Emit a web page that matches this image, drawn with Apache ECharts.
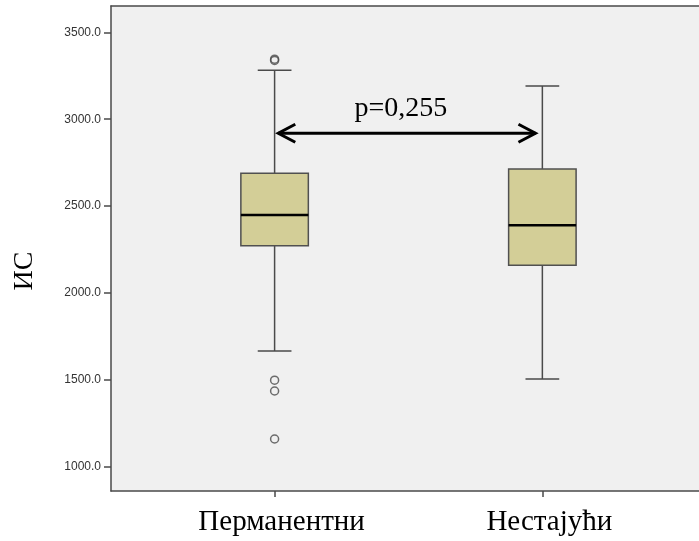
<!DOCTYPE html>
<html>
<head>
<meta charset="utf-8">
<script src="https://cdn.jsdelivr.net/npm/echarts@6/dist/echarts.min.js"></script>
<style>
  html, body { margin: 0; padding: 0; background: #ffffff; }
  #chart { width: 699px; height: 541px; }
</style>
</head>
<body>
<div id="chart"></div>
<script>
// Groups on the horizontal axis
const categories = ['Перманентни', 'Нестајући'];

// Five-number summaries per group
const boxMin    = [1667, 1506];
const boxQ1     = [2273, 2160];
const boxMedian = [2449, 2390];
const boxQ3     = [2689, 2714];
const boxMax    = [3281, 3191];

// Outlying observations (group index, value)
const outlierGroup  = [0, 0, 0, 0, 0];
const outlierValues = [3338, 3345, 1499, 1437, 1161];

// Vertical axis ticks
const yTicks = [1000, 1500, 2000, 2500, 3000, 3500];

// Comparison arrow between the groups and its label
const arrowFrom = 0.01;
const arrowTo = 0.978;
const arrowLevel = 2919;
const pLabel = 'p=0,255';

const boxData = categories.map((c, i) => [i, boxMin[i], boxQ1[i], boxMedian[i], boxQ3[i], boxMax[i]]);
const outlierData = outlierGroup.map((g, i) => [g, outlierValues[i]]);

const frameColor = '#4a4a4a';
const frameLine = { color: frameColor, width: 1.5 };

function renderBox(params, api) {
  const x = api.value(0);
  const pMin = api.coord([x, api.value(1)]);
  const pQ1 = api.coord([x, api.value(2)]);
  const pMed = api.coord([x, api.value(3)]);
  const pQ3 = api.coord([x, api.value(4)]);
  const pMax = api.coord([x, api.value(5)]);
  const unit = api.size([1, 0])[0];
  const half = unit * 0.126;
  const cap = half / 2;
  const cx = pMed[0];
  const whisker = { stroke: frameColor, lineWidth: 1.5 };
  return {
    type: 'group',
    children: [
      { type: 'line', shape: { x1: cx, y1: pQ3[1], x2: cx, y2: pMax[1] }, style: whisker },
      { type: 'line', shape: { x1: cx - cap, y1: pMax[1], x2: cx + cap, y2: pMax[1] }, style: whisker },
      { type: 'line', shape: { x1: cx, y1: pQ1[1], x2: cx, y2: pMin[1] }, style: whisker },
      { type: 'line', shape: { x1: cx - cap, y1: pMin[1], x2: cx + cap, y2: pMin[1] }, style: whisker },
      {
        type: 'rect',
        shape: { x: cx - half, y: pQ3[1], width: half * 2, height: pQ1[1] - pQ3[1] },
        style: { fill: '#d3ce97', stroke: '#505050', lineWidth: 1.5 }
      },
      { type: 'line', shape: { x1: cx - half, y1: pMed[1], x2: cx + half, y2: pMed[1] }, style: { stroke: '#000', lineWidth: 2.5 } }
    ]
  };
}

function renderArrow(params, api) {
  const a = api.coord([api.value(0), api.value(2)]);
  const b = api.coord([api.value(1), api.value(2)]);
  const headLen = 18, headHalf = 9;
  const st = { stroke: '#000', lineWidth: 3, fill: null, lineJoin: 'miter' };
  return {
    type: 'group',
    children: [
      { type: 'line', shape: { x1: a[0] + 1, y1: a[1], x2: b[0] - 1, y2: b[1] }, style: st },
      { type: 'polyline', shape: { points: [[a[0] + headLen, a[1] - headHalf], [a[0] + 1, a[1]], [a[0] + headLen, a[1] + headHalf]] }, style: st },
      { type: 'polyline', shape: { points: [[b[0] - headLen, b[1] - headHalf], [b[0] - 1, b[1]], [b[0] - headLen, b[1] + headHalf]] }, style: st },
      {
        type: 'text',
        x: (a[0] + b[0]) / 2 - 6,
        y: a[1] - 25,
        style: {
          text: pLabel,
          font: '28px "Liberation Serif", "Times New Roman", serif',
          fill: '#000',
          align: 'center',
          verticalAlign: 'middle'
        }
      }
    ]
  };
}

const chart = echarts.init(document.getElementById('chart'), null, { renderer: 'canvas' });
chart.setOption({
  animation: false,
  backgroundColor: '#ffffff',
  grid: {
    left: 111, top: 6, right: -5, bottom: 50,
    show: true,
    backgroundColor: '#f0f0f0',
    borderWidth: 0
  },
  xAxis: [
    {
      type: 'value',
      position: 'bottom',
      min: -0.611,
      max: 1.585,
      splitLine: { show: false },
      axisLine: { show: true, onZero: false, lineStyle: frameLine },
      axisTick: {
        show: true,
        customValues: [0, 1],
        length: 6,
        lineStyle: frameLine
      },
      axisLabel: {
        customValues: [0, 1],
        formatter: v => categories[Math.round(v)],
        fontFamily: '"Liberation Serif", "Times New Roman", serif',
        fontSize: 29,
        color: '#000',
        margin: 17,
        padding: [0, 0, 0, 14]
      }
    },
    {
      // top edge of the plotting frame
      type: 'value',
      position: 'top',
      min: -0.611,
      max: 1.585,
      splitLine: { show: false },
      axisLine: { show: true, onZero: false, lineStyle: frameLine },
      axisTick: { show: false },
      axisLabel: { show: false }
    }
  ],
  yAxis: {
    type: 'value',
    min: 862,
    max: 3651,
    splitLine: { show: false },
    axisLine: { show: true, onZero: false, lineStyle: frameLine },
    axisTick: {
      show: true,
      customValues: yTicks,
      length: 7,
      lineStyle: frameLine
    },
    axisLabel: {
      customValues: yTicks,
      formatter: v => v.toFixed(1),
      fontFamily: '"Liberation Sans", Arial, sans-serif',
      fontSize: 12,
      color: '#333',
      margin: 10
    }
  },
  graphic: [
    {
      type: 'text',
      x: 25,
      y: 271,
      rotation: Math.PI / 2,
      style: {
        text: 'ИС',
        font: '28px "Liberation Serif", "Times New Roman", serif',
        fill: '#000',
        align: 'center',
        verticalAlign: 'middle'
      }
    }
  ],
  series: [
    {
      type: 'custom',
      renderItem: renderBox,
      encode: { x: 0, y: [1, 2, 3, 4, 5] },
      data: boxData,
      clip: false,
      z: 2
    },
    {
      type: 'scatter',
      data: outlierData,
      symbol: 'circle',
      symbolSize: 8,
      itemStyle: { color: 'rgba(0,0,0,0)', borderColor: frameColor, borderWidth: 1.5 },
      z: 3
    },
    {
      type: 'custom',
      renderItem: renderArrow,
      encode: { x: [0, 1], y: 2 },
      data: [[arrowFrom, arrowTo, arrowLevel]],
      clip: false,
      z: 4
    }
  ]
});
</script>
</body>
</html>
